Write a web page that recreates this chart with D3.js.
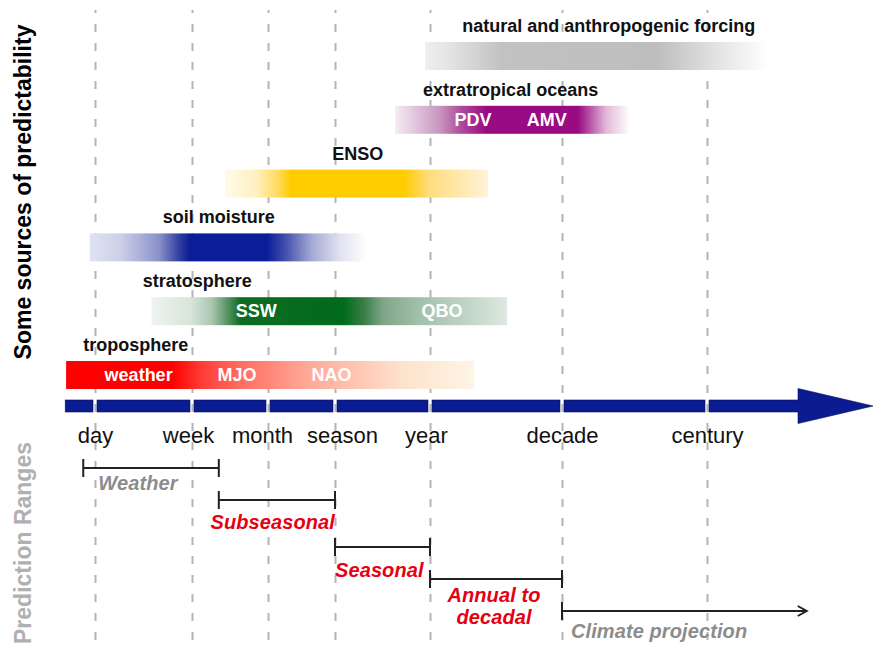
<!DOCTYPE html>
<html>
<head>
<meta charset="utf-8">
<title>sources of predictability</title>
<script src="https://cdn.jsdelivr.net/npm/d3@7"></script>
<style>
body { margin: 0; background: #fff; }
svg { font-family: Arial, "Liberation Sans", sans-serif; }
.grid line { stroke: #b4b4b4; stroke-width: 2; stroke-dasharray: 8 11; }
.grid path, .ticks path { display: none; }
.ticks text { font-size: 22px; fill: #111; }
.src-label { font-size: 18px; font-weight: bold; fill: #111; }
.inner-label { font-size: 18px; font-weight: bold; fill: #fff; }
.range line, .range path { stroke: #222; stroke-width: 2; fill: none; }
.range-label { font-size: 20px; font-weight: bold; font-style: italic; letter-spacing: 0.1px; }
.title { font-size: 23px; font-weight: bold; }
</style>
</head>
<body>
<script>
// time scale ticks, in days
var tickNames = ["day", "week", "month", "season", "year", "decade", "century"];
var tickDays = [1, 7, 30, 91, 365, 3652, 36525];

// sources of predictability: range in days
var sources = ["natural and anthropogenic forcing", "extratropical oceans", "ENSO", "soil moisture", "stratosphere", "troposphere"];
var sourceStart = [340, 219, 13.2, 0.9, 3.1, 0.56];
var sourceEnd = [95000, 10700, 1000, 145, 1400, 790];

// phenomena written inside the bars
var phenomena = ["PDV", "AMV", "SSW", "QBO", "weather", "MJO", "NAO"];
var phenomenonSource = ["extratropical oceans", "extratropical oceans", "stratosphere", "stratosphere", "troposphere", "troposphere", "troposphere"];
var phenomenonDays = [773, 2800, 24, 450, 2.4, 16.6, 86];

// prediction ranges, in days
var ranges = ["Weather", "Subseasonal", "Seasonal", "Annual to|decadal", "Climate projection"];
var rangeStart = [0.79, 11.7, 91, 365, 3652];
var rangeEnd = [11.7, 91, 365, 3652, 178000];

// ---- layout / style ----
var width = 877, height = 649;
var axisStart = 0.55;          // days, left end of time arrow
var sourceLabelAt = [640, 330, 127, 3.9, 2.6, 0.79];
var sourceLabelAnchor = ["start", "start", "middle", "start", "start", "start"];
var tickShift = [0, -4, -6, 7, -4, 0, 0];
var rangeY = [468, 500, 547, 579, 611];
var rangeLabelAt = [1.07, 91, 91, 1115, 4210];
var rangeLabelAnchor = ["start", "end", "start", "middle", "start"];
var rangeLabelDy = [22, 29, 30, 23, 27];
var rangeColor = ["#8c8c8c", "#e60012", "#e60012", "#e60012", "#8c8c8c"];

var gradients = [
    [[0, "#efefef"], [0.08, "#e2e2e2"], [0.22, "#c2c2c2"], [0.68, "#bebebe"], [0.82, "#dcdcdc"], [1, "#ffffff"]],
    [[0, "#f6ecf4"], [0.19, "#c897be"], [0.28, "#ad4d9c"], [0.39, "#990b82"], [0.78, "#990b82"], [0.9, "#e2b8da"], [1, "#ffffff"]],
    [[0, "#fffaea"], [0.12, "#fff0c0"], [0.2, "#ffdb60"], [0.25, "#ffcc00"], [0.68, "#ffcc00"], [0.78, "#ffdd80"], [1, "#fff3d8"]],
    [[0, "#e1e3f1"], [0.11, "#ccd0e8"], [0.25, "#8a92cb"], [0.32, "#36429f"], [0.36, "#0a1e99"], [0.64, "#0a1e99"], [0.71, "#4753ad"], [0.8, "#a3a9d4"], [0.9, "#dfe1f0"], [1, "#ffffff"]],
    [[0, "#eef4ef"], [0.11, "#d7e5da"], [0.17, "#aac6b0"], [0.21, "#5f9669"], [0.25, "#0e6c22"], [0.54, "#006a1b"], [0.6, "#3c8049"], [0.65, "#7ea588"], [0.75, "#a2c0a9"], [0.87, "#bcd2c1"], [1, "#dde9e0"]],
    [[0, "#ff0000"], [0.26, "#ff0000"], [0.33, "#ff3b36"], [0.42, "#ff6a5e"], [0.58, "#ffa595"], [0.7, "#ffc3b0"], [0.82, "#fde2cc"], [1, "#fdf5e6"]]
];

var svg = d3.select("body").append("svg")
    .attr("width", width)
    .attr("height", height);

// piecewise log scale: time in days -> x
var x = d3.scaleLog()
    .domain(tickDays)
    .range([95, 192, 268, 335, 430, 562, 707]);

var y = d3.scalePoint()
    .domain(sources)
    .range([42, 361]);

var barH = 28;

// dashed grid
svg.append("g")
    .attr("class", "grid")
    .attr("transform", "translate(0,640)")
    .call(d3.axisBottom(x).tickValues(tickDays).tickSize(-630).tickFormat(""));

// bars
var defs = svg.append("defs");
gradients.forEach(function(stops, i) {
    defs.append("linearGradient")
        .attr("id", "grad-" + i)
        .selectAll("stop")
        .data(stops)
        .enter().append("stop")
        .attr("offset", function(d) { return d[0]; })
        .attr("stop-color", function(d) { return d[1]; });
});

svg.selectAll(".bar")
    .data(sources)
    .enter().append("rect")
    .attr("class", "bar")
    .attr("x", function(d, i) { return x(sourceStart[i]); })
    .attr("width", function(d, i) { return x(sourceEnd[i]) - x(sourceStart[i]); })
    .attr("y", function(d) { return y(d); })
    .attr("height", barH)
    .attr("fill", function(d, i) { return "url(#grad-" + i + ")"; });

svg.selectAll(".src-label")
    .data(sources)
    .enter().append("text")
    .attr("class", "src-label")
    .attr("x", function(d, i) { return x(sourceLabelAt[i]); })
    .attr("y", function(d) { return y(d) - 10; })
    .attr("text-anchor", function(d, i) { return sourceLabelAnchor[i]; })
    .text(function(d) { return d; });

svg.selectAll(".inner-label")
    .data(phenomena)
    .enter().append("text")
    .attr("class", "inner-label")
    .attr("x", function(d, i) { return x(phenomenonDays[i]); })
    .attr("y", function(d, i) { return y(phenomenonSource[i]) + barH / 2 + 6; })
    .attr("text-anchor", "middle")
    .text(function(d) { return d; });

// time arrow, broken at each tick
var ay = 400, ah = 12, headX = 798, tipX = 873, headH = 35;
var bounds = [x(axisStart)].concat(tickDays.map(x));
var segs = bounds.map(function(b, i) {
    return [i === 0 ? b : b + 2, i < bounds.length - 1 ? bounds[i + 1] - 2 : headX];
});
var arrow = svg.append("g").attr("class", "time-arrow");
arrow.selectAll("rect")
    .data(segs.slice(0, -1))
    .enter().append("rect")
    .attr("x", function(d) { return d[0]; })
    .attr("y", ay)
    .attr("width", function(d) { return d[1] - d[0]; })
    .attr("height", ah)
    .attr("fill", "#0b1c92")
    .attr("stroke", "#0a1050")
    .attr("stroke-width", 0.6);
var last = segs[segs.length - 1], cy = ay + ah / 2;
arrow.append("path")
    .attr("d", d3.line()([
        [last[0], ay], [headX, ay], [headX, cy - headH / 2], [tipX, cy],
        [headX, cy + headH / 2], [headX, ay + ah], [last[0], ay + ah]
    ]) + "Z")
    .attr("fill", "#0b1c92")
    .attr("stroke", "#0a1050")
    .attr("stroke-width", 0.6);

// time labels
var ticks = svg.append("g")
    .attr("class", "ticks")
    .attr("transform", "translate(0,427)")
    .call(d3.axisBottom(x).tickValues(tickDays).tickSize(0).tickPadding(0)
        .tickFormat(function(d, i) { return tickNames[i]; }));
ticks.selectAll("text").attr("dx", function(d, i) { return tickShift[i]; });
ticks.selectAll("line").remove();

// prediction ranges
var rg = svg.selectAll(".range")
    .data(ranges)
    .enter().append("g")
    .attr("class", "range");

rg.append("line")
    .attr("x1", function(d, i) { return x(rangeStart[i]); })
    .attr("x2", function(d, i) { return x(rangeEnd[i]); })
    .attr("y1", function(d, i) { return rangeY[i]; })
    .attr("y2", function(d, i) { return rangeY[i]; });

rg.append("line")
    .attr("x1", function(d, i) { return x(rangeStart[i]); })
    .attr("x2", function(d, i) { return x(rangeStart[i]); })
    .attr("y1", function(d, i) { return rangeY[i] - 9; })
    .attr("y2", function(d, i) { return rangeY[i] + 9; });

rg.append("path")
    .attr("d", function(d, i) {
        var xe = x(rangeEnd[i]), ye = rangeY[i];
        if (i === ranges.length - 1) {
            return "M" + (xe - 9) + "," + (ye - 5) + "L" + xe + "," + ye + "L" + (xe - 9) + "," + (ye + 5);
        }
        return "M" + xe + "," + (ye - 9) + "V" + (ye + 9);
    });

rg.append("text")
    .attr("class", "range-label")
    .attr("fill", function(d, i) { return rangeColor[i]; })
    .attr("text-anchor", function(d, i) { return rangeLabelAnchor[i]; })
    .attr("x", function(d, i) { return x(rangeLabelAt[i]); })
    .attr("y", function(d, i) { return rangeY[i] + rangeLabelDy[i]; })
    .each(function(d, i) {
        var t = d3.select(this);
        d.split("|").forEach(function(line, j) {
            t.append("tspan")
                .attr("x", x(rangeLabelAt[i]))
                .attr("dy", j === 0 ? 0 : 22)
                .text(line);
        });
    });

// side titles
svg.append("text")
    .attr("class", "title")
    .attr("transform", "translate(31,192) rotate(-90)")
    .attr("text-anchor", "middle")
    .attr("fill", "#000")
    .text("Some sources of predictability");

svg.append("text")
    .attr("class", "title")
    .attr("transform", "translate(31,543) rotate(-90)")
    .attr("text-anchor", "middle")
    .attr("fill", "#b0b0b0")
    .text("Prediction Ranges");
</script>
</body>
</html>
